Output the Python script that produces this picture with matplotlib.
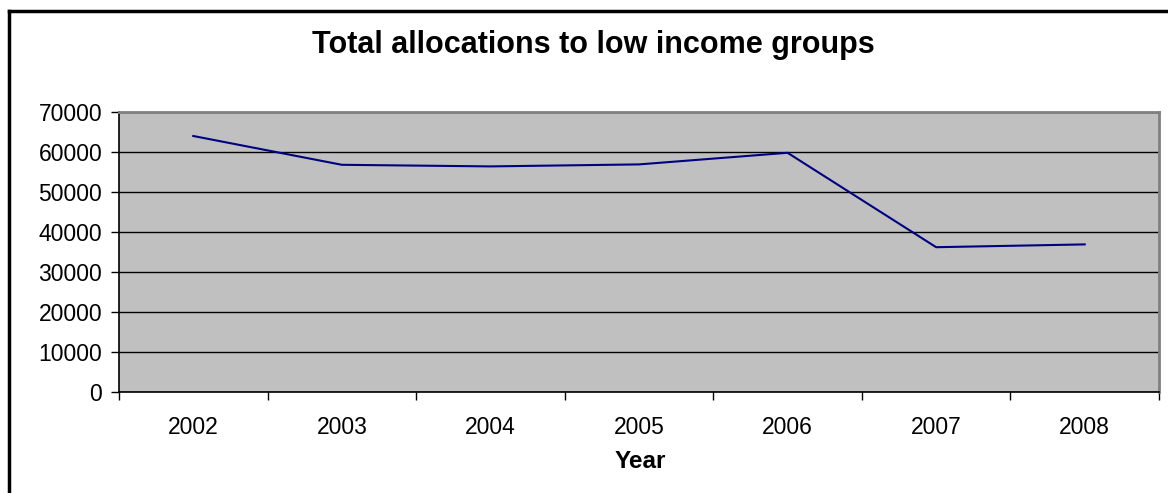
import matplotlib
matplotlib.use("Agg")
import matplotlib.pyplot as plt
from matplotlib.lines import Line2D

years = ['2002', '2003', '2004', '2005', '2006', '2007', '2008']
allocations = [64000, 56800, 56400, 56900, 59800, 36200, 36900]
y_ticks = [0, 10000, 20000, 30000, 40000, 50000, 60000, 70000]

plt.rcParams['font.family'] = ['Liberation Sans', 'DejaVu Sans']

W, H = 1168, 493
fig = plt.figure(figsize=(W / 100, H / 100), dpi=100)
fig.patch.set_facecolor('white')

ax = fig.add_axes([119 / W, (H - 392) / H, 1040 / W, 280 / H])
ax.set_facecolor('#C0C0C0')

xs = list(range(len(years)))
ax.plot(xs, allocations, color='#000080', linewidth=1.5, zorder=3)

ax.set_xlim(-0.5, len(years) - 0.5)
ax.set_ylim(0, 70000)
ax.set_yticks(y_ticks)
ax.set_yticklabels([str(v) for v in y_ticks], fontsize=16.5)
ax.yaxis.grid(True, color='black', linewidth=1.0, zorder=1)
ax.set_axisbelow(True)

# category boundaries get the tick marks, centres get the labels
ax.set_xticks([i - 0.5 for i in range(len(years) + 1)])
ax.set_xticklabels([])
ax.set_xticks(xs, minor=True)
ax.set_xticklabels(years, minor=True, fontsize=16.5)
ax.tick_params(axis='x', which='major', length=6, width=1, direction='out', color='black')
ax.tick_params(axis='x', which='minor', length=0, pad=17)
ax.tick_params(axis='y', length=6, width=1, direction='out', pad=6)

for side in ['left', 'bottom']:
    ax.spines[side].set_color('black')
    ax.spines[side].set_linewidth(1.2)
for side in ['top', 'right']:
    ax.spines[side].set_color('#808080')
    ax.spines[side].set_linewidth(2)

fig.text(593 / W, 1 - 45 / H, 'Total allocations to low income groups',
         ha='center', va='center', fontsize=22, fontweight='bold')
fig.text(640 / W, 1 - 462 / H, 'Year', ha='center', va='center',
         fontsize=17.5, fontweight='bold')

# chart frame (top and left edges visible)
fig.add_artist(Line2D([9 / W, 9 / W], [0, 1 - 11 / H], color='black', linewidth=2.5,
                      transform=fig.transFigure))
fig.add_artist(Line2D([9 / W, 1], [1 - 11 / H, 1 - 11 / H], color='black', linewidth=2.5,
                      transform=fig.transFigure))

fig.savefig('out.png', dpi=100)
